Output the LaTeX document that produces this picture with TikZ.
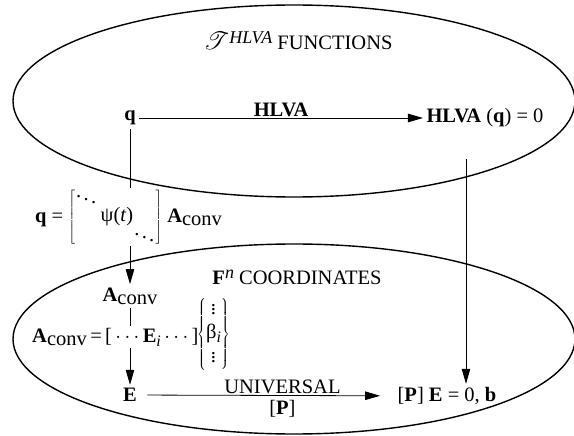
\documentclass[tikz,border=0pt]{standalone}
\usepackage{fix-cm}
\usepackage{mathrsfs}
\usepackage{fontspec}
\setmainfont{Liberation Serif}
\usetikzlibrary{arrows.meta}
\newcommand{\myAconv}{\textbf{A}\raisebox{-3pt}{conv}}
\newcommand{\myisub}{\raisebox{-4pt}{\fontsize{16}{16}\selectfont\itshape i}}
\newcommand{\mysup}[1]{\raisebox{6pt}{\fontsize{18}{18}\selectfont\itshape #1}}
\begin{document}
\begin{tikzpicture}[x=1pt,y=-1pt,
  font=\fontsize{20.5}{24}\selectfont,
  arr/.style={-{Triangle[length=15pt,width=8.5pt]}, line width=0.8pt},
  plain/.style={line width=0.8pt},
  setell/.style={line width=1.4pt},
  lbl/.style={inner sep=1pt}]
\useasboundingbox (0,0) rectangle (574,436);
% the two sets
\draw[setell] (294,101) ellipse [x radius=281pt, y radius=96pt];
\draw[setell] (294,339) ellipse [x radius=281pt, y radius=95pt];
% titles
\node[lbl] (title) at (298,41) {{\fontsize{30}{30}\selectfont$\mathscr{T}$}\mysup{HLVA} FUNCTIONS};
\node[lbl] (fn) at (297,277) {\textbf{F}\mysup{n} COORDINATES};
% top row
\node (q) at (130,118) {\textbf{q}};
\node (hq) at (485,118) {\textbf{HLVA} (\textbf{q}) = 0};
\draw[arr] (q) -- node[above,lbl] {\textbf{HLVA}} (hq);
% matrix label
\node[anchor=west, inner sep=0pt] (qeq) at (35,217) {\textbf{q} = $\def\arraystretch{0.5}\left[\begin{array}{@{}c@{}c@{}c@{}}\ddots&&\\&\mbox{\,ψ(\textit{t})}&\\&&\ddots\end{array}\right]$ \myAconv};
\node (Aconv) at (130,296) {\myAconv};
\draw[plain] (q) -- (q |- qeq.north);
\draw[arr] (q |- qeq.south) -- (Aconv);
% second row
\node[anchor=west, inner sep=2pt] (row) at (30,337) {\myAconv\,=\,[\,$\cdots$\,\textbf{E}\myisub\,$\cdots$\,]};
\node[anchor=west, inner sep=0pt] (beta) at (197,334) {$\def\arraystretch{1.0}\left\{\begin{array}{@{}c@{}}\vdots\\ \mbox{β\myisub}\\ \vdots\end{array}\right\}$};
\node (E) at (130,395) {\textbf{E}};
\draw[plain] (Aconv) -- (Aconv |- row.north);
\draw[arr] (Aconv |- row.south) -- (E);
% bottom row
\node (pe) at (447,396) {[\textbf{P}] \textbf{E} = 0, \textbf{b}};
\draw[arr, shorten <=7pt, shorten >=14pt] (E) -- node[pos=0.56,above,lbl] {UNIVERSAL} node[pos=0.56,below,inner sep=4pt] {[\textbf{P}]} (pe);
\coordinate (rtop) at (466,159);
\draw[arr] (rtop) -- (rtop |- pe.north);
\end{tikzpicture}
\end{document}
